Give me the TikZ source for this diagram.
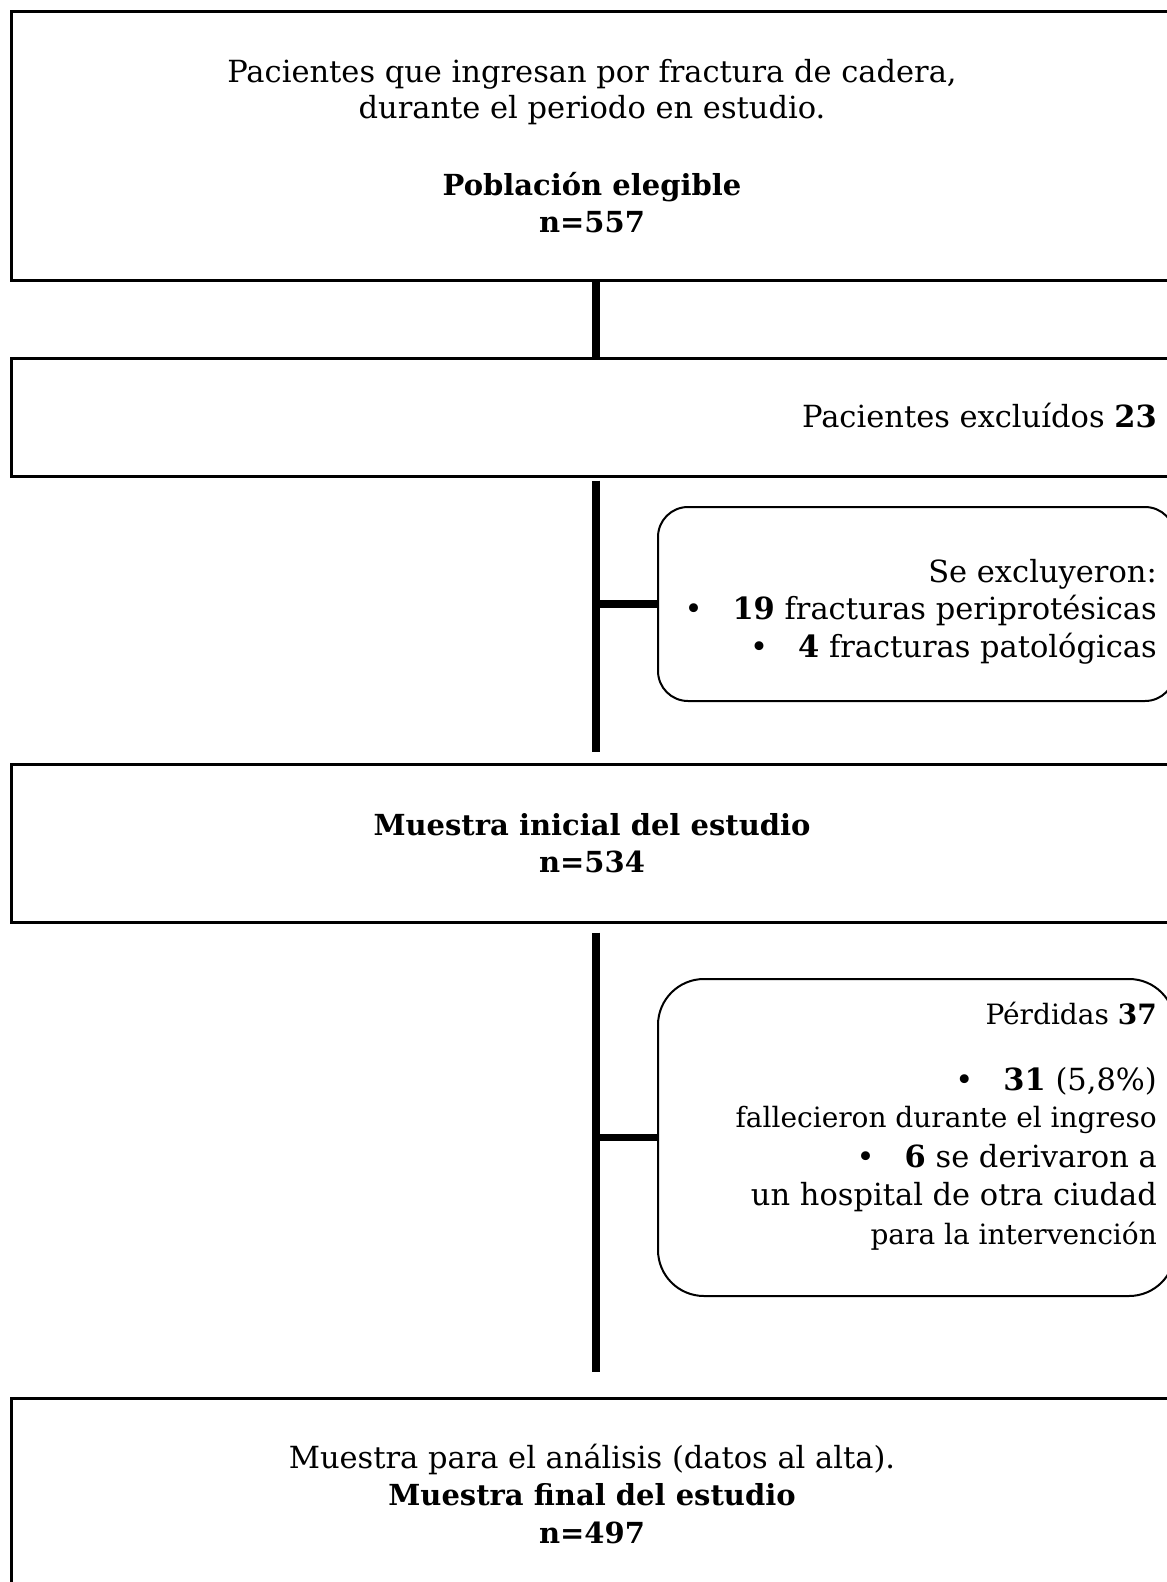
\documentclass[tikz,border=0pt]{standalone}
\usepackage{fontspec}
\setmainfont{DejaVu Serif}
\newcommand{\mainsize}{\fontsize{30.5pt}{36pt}\selectfont}
\newcommand{\boldsize}{\fontsize{29pt}{36pt}\selectfont\bfseries}
\newcommand{\smallsz}{\fontsize{28pt}{32pt}\selectfont}
\begin{document}
\begin{tikzpicture}[x=1pt,y=-1pt,
  boxstyle/.style={draw=black,line width=2.6pt,rectangle,anchor=north west,inner sep=0pt},
  roundbox/.style={draw=black,line width=2pt,rectangle,anchor=north west,inner sep=0pt},
  conn/.style={line width=7.5pt,black},
  txt/.style={anchor=base,inner sep=0pt,font=\mainsize},
  btxt/.style={anchor=base,inner sep=0pt,font=\boldsize},
  rtxt/.style={anchor=base east,inner sep=0pt,font=\mainsize},
  rsmall/.style={anchor=base east,inner sep=0pt,font=\smallsz}]
\useasboundingbox (0,0) rectangle (1167,1582);
\fill[white] (0,0) rectangle (1167,1582);
\clip (0,0) rectangle (1167,1582);
% boxes
\node[boxstyle,minimum width=1170pt,minimum height=269pt] (b1) at (10,10) {};
\node[boxstyle,minimum width=1170pt,minimum height=118pt] (b2) at (10,357) {};
\node[boxstyle,minimum width=1170pt,minimum height=158pt] (b3) at (10,763) {};
\node[boxstyle,minimum width=1170pt,minimum height=240pt] (b4) at (10,1397) {};
\node[roundbox,rounded corners=30pt,minimum width=517pt,minimum height=194pt] (r1) at (657,506) {};
\node[roundbox,rounded corners=46pt,minimum width=517pt,minimum height=317pt] (r2) at (657,978) {};
\coordinate (spine) at (596,0);
% connectors
\draw[conn] (b1.south -| spine) -- ([yshift=-3pt]b2.north -| spine);
\draw[conn] ([yshift=-3pt]b2.south -| spine) -- ([yshift=11pt]b3.north -| spine);
\draw[conn] ([xshift=-3.7pt]spine |- r1.west) -- (r1.west);
\draw[conn] ([yshift=-9pt]b3.south -| spine) -- ([yshift=25pt]b4.north -| spine);
\draw[conn] ([xshift=-3.7pt]spine |- r2.west) -- (r2.west);
% texts box 1
\node[txt] (t1) at (592,82) {Pacientes que ingresan por fractura de cadera,};
\node[txt] (t2) at (592,118) {durante el periodo en estudio.};
\node[btxt] (t3) at (592,195) {Población elegible};
\node[btxt] (t4) at (592,232) {n=557};
% box 2
\node[rtxt] (t5) at (1157,427) {Pacientes excluídos \textbf{23}};
% round box 1
\node[rtxt] (t6) at (1157,582) {Se excluyeron:};
\node[rtxt] (t7) at (1157,619) {•\hspace{30pt}\textbf{19} fracturas periprotésicas};
\node[rtxt] (t8) at (1157,657) {•\hspace{30pt}\textbf{4} fracturas patológicas};
% box 3
\node[btxt] (t9) at (592,835) {Muestra inicial del estudio};
\node[btxt] (t10) at (592,872) {n=534};
% round box 2
\node[rsmall] (t11) at (1157,1024) {Pérdidas \textbf{37}};
\node[rtxt] (t12) at (1157,1090) {•\hspace{30pt}\textbf{31} (5,8\%)};
\node[rsmall] (t13) at (1157,1127) {fallecieron durante el ingreso};
\node[rtxt] (t14) at (1157,1167) {•\hspace{30pt}\textbf{6} se derivaron a};
\node[rtxt] (t15) at (1157,1205) {un hospital de otra ciudad};
\node[rsmall] (t16) at (1157,1244) {para la intervención};
% box 4
\node[txt] (t17) at (592,1468) {Muestra para el análisis (datos al alta).};
\node[btxt] (t18) at (592,1505) {Muestra final del estudio};
\node[btxt] (t19) at (592,1543) {n=497};
\end{tikzpicture}
\end{document}
